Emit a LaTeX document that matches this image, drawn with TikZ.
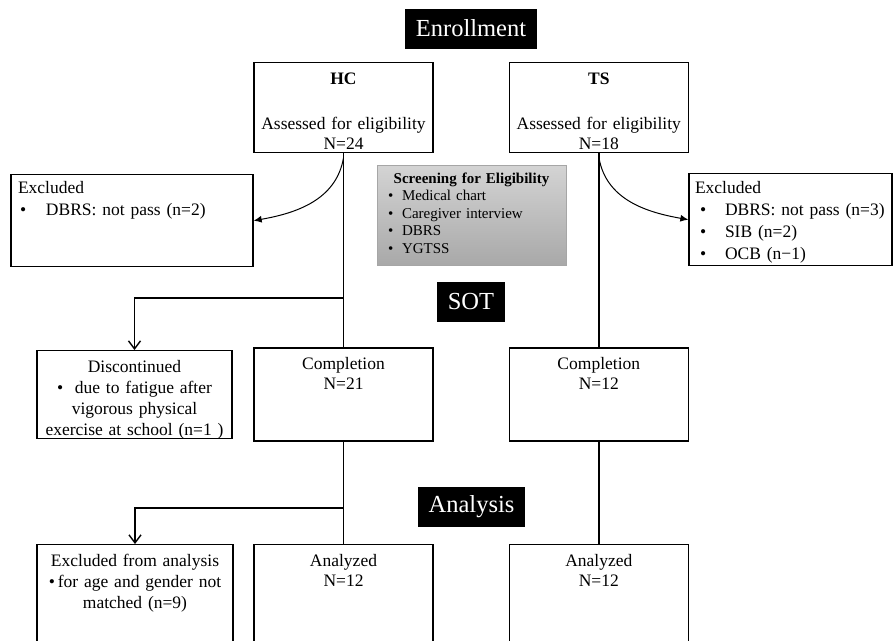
\documentclass[tikz,border=0pt]{standalone}
\usepackage{fontspec}
\setmainfont{Liberation Serif}
\usetikzlibrary{arrows.meta, positioning}

\begin{document}
\begin{tikzpicture}[
    x=1pt, y=-1pt,
    every node/.style={font=\fontsize{17.5}{20}\selectfont},
    stage/.style={rectangle, fill=black, text=white, inner xsep=11pt, minimum height=40pt, font=\fontsize{24.5}{28}\selectfont},
    flowbox/.style={rectangle, draw, line width=1.3pt, inner xsep=4pt, inner ysep=0pt, anchor=north, align=center},
    groupbox/.style={flowbox, text width=171pt, text height=22pt},
    link/.style={line width=1.6pt},
    fork/.style={-{Straight Barb[length=8pt,width=12pt,line width=1.4pt]}, line width=1.2pt},
    curvearrow/.style={-{Latex[length=8pt,width=7pt]}, line width=1pt},
]
\useasboundingbox (0,0) rectangle (893,640);

% stage labels
\node[stage] (enroll) at (471,28.5) {Enrollment};
\node[stage] (sot) at (471,302) {SOT};
\node[stage] (analysis) at (471.5,507) {Analysis};

% groups
\node[groupbox, text depth=68pt] (hc) at (343.5,62) {\textbf{HC}\\[25pt]Assessed for eligibility\\N=24};
\node[groupbox, text depth=68pt, right=75pt of hc] (ts) {\textbf{TS}\\[25pt]Assessed for eligibility\\N=18};

% exclusions at enrollment
\node[flowbox, text width=228pt, text height=19pt, text depth=73pt, inner xsep=7pt, align=left] (exclhc) at (132,174)
    {Excluded\\[2pt]\hspace*{2pt}\makebox[26pt][l]{\textbullet}DBRS: not pass (n=2)};
\node[flowbox, text width=191pt, text height=20pt, text depth=72pt, inner xsep=6pt, align=left, font=\fontsize{17.5}{22}\selectfont] (exclts) at (790.5,173)
    {Excluded\\
     \hspace*{5pt}\makebox[25pt][l]{\textbullet}DBRS: not pass (n=3)\\
     \hspace*{5pt}\makebox[25pt][l]{\textbullet}SIB (n=2)\\
     \hspace*{5pt}\makebox[25pt][l]{\textbullet}OCB (n−1)};

\node[flowbox, draw=black!35, line width=0.8pt, top color=black!17, bottom color=black!34, text width=167pt, text height=18pt, text depth=82pt, inner xsep=11pt, align=left, font=\fontsize{15}{17.5}\selectfont] (screen) at (471.5,165)
    {\makebox[\linewidth][c]{\textbf{Screening for Eligibility}}\\
     \makebox[14pt][l]{\textbullet}Medical chart\\
     \makebox[14pt][l]{\textbullet}Caregiver interview\\
     \makebox[14pt][l]{\textbullet}DBRS\\
     \makebox[14pt][l]{\textbullet}YGTSS};

% SOT
\node[groupbox, text depth=71pt, below=194pt of hc] (comphc) {Completion\\N=21};
\node[groupbox, text depth=71pt, below=194pt of ts] (compts) {Completion\\N=12};
\node[flowbox, text width=187pt, text height=22pt, text depth=66pt, font=\fontsize{17.5}{21}\selectfont] (disc) at (134.5,350)
    {Discontinued\\\textbullet\ \ due to fatigue after\\vigorous physical\\exercise at school (n=1 )};

% analysis
\node[groupbox, text depth=120pt, below=102pt of comphc] (anahc) {Analyzed\\N=12};
\node[groupbox, text depth=120pt, below=102pt of compts] (anats) {Analyzed\\N=12};
\node[flowbox, text width=188pt, text height=22pt, text depth=120pt, font=\fontsize{17.5}{21}\selectfont] (exclana) at (135,544)
    {Excluded from analysis\\\textbullet\,for age and gender not\\matched (n=9)};

% connectors
\draw[link] (hc.south) -- (comphc.north);
\draw[link] (comphc.south) -- (anahc.north);
\draw[link] (ts.south) -- (compts.north);
\draw[link] (compts.south) -- (anats.north);

\coordinate (sotfork) at (343.5,298);
\coordinate (anafork) at (343.5,508);
\draw[fork] (sotfork) -| (disc.north);
\draw[fork] (anafork) -| (exclana.north);

\coordinate (hcbend) at (343.5,158);
\coordinate (tsbend) at (599,158);
\draw[curvearrow] (hcbend) to[out=-100, in=10] (exclhc.east);
\draw[curvearrow] (tsbend) to[out=-80, in=170] (exclts.west);

\end{tikzpicture}
\end{document}
